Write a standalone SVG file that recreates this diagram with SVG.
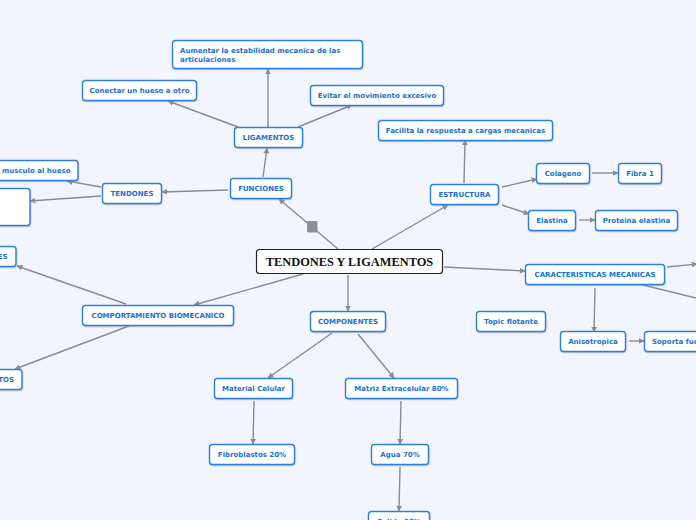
<svg xmlns="http://www.w3.org/2000/svg" width="696" height="520" viewBox="0 0 696 520">
<defs>
<style>
.n rect{fill:#fff;stroke:#2a7fe0;stroke-width:1.4;filter:url(#sh)}
.n text{font-family:"DejaVu Sans",Verdana,sans-serif;font-weight:bold;font-size:7px;fill:#1a6fd4;text-anchor:middle}
.c line{stroke:#8a8a92;stroke-width:1.4;marker-end:url(#ar)}
.c line.na{marker-end:none}
</style>
<marker id="ar" viewBox="0 0 10 10" refX="9" refY="5" markerWidth="6" markerHeight="6" orient="auto" markerUnits="userSpaceOnUse">
<path d="M0,0 L10,5 L0,10 z" fill="#8a8a92"/>
</marker>
<filter id="sh" x="-10%" y="-20%" width="120%" height="150%">
<feDropShadow dx="0.5" dy="1" stdDeviation="0.6" flood-color="#7a8aa0" flood-opacity="0.45"/>
</filter>
</defs>
<rect width="696" height="520" fill="#f2f5fd"/>
<g id="connectors" class="c">
<line x1="338" y1="249" x2="279" y2="199"/>
<line x1="372" y1="249" x2="448" y2="205"/>
<line x1="444" y1="267" x2="525" y2="271"/>
<line x1="348" y1="275" x2="348" y2="311"/>
<line x1="303" y1="274" x2="194" y2="305"/>
<line x1="263" y1="177" x2="267" y2="148"/>
<line x1="228" y1="190" x2="162" y2="192"/>
<line x1="238" y1="127" x2="168" y2="101"/>
<line x1="268" y1="127" x2="268" y2="69"/>
<line x1="298" y1="127" x2="352" y2="105"/>
<line x1="101" y1="187" x2="67" y2="181"/>
<line x1="101" y1="196" x2="30" y2="201"/>
<line x1="464" y1="183" x2="465" y2="140"/>
<line x1="502" y1="187" x2="537" y2="179"/>
<line x1="502" y1="205" x2="529" y2="214"/>
<line x1="592" y1="173" x2="618" y2="173"/>
<line x1="579" y1="220" x2="595" y2="220"/>
<line x1="595" y1="288" x2="594" y2="332"/>
<line x1="629" y1="341" x2="644" y2="341"/>
<line x1="667" y1="267" x2="697" y2="264"/>
<line class="na" x1="643" y1="285" x2="700" y2="299"/>
<line x1="126" y1="304" x2="17" y2="266"/>
<line x1="129" y1="326" x2="15" y2="369"/>
<line x1="332" y1="333" x2="268" y2="378"/>
<line x1="358" y1="334" x2="394" y2="378"/>
<line x1="254" y1="401" x2="253" y2="444"/>
<line x1="401" y1="401" x2="400" y2="444"/>
<line x1="400" y1="467" x2="399" y2="511"/>
</g>
<rect x="307" y="221" width="10.5" height="11.5" rx="1.5" fill="#8f8f95"/>
<g id="central">
<rect x="256.5" y="249.5" width="186" height="24" rx="3" fill="#fff" stroke="#222" stroke-width="1.2"/>
<text x="349.5" y="265.8" font-family="'Liberation Serif','Times New Roman',serif" font-weight="bold" font-size="12.4" text-anchor="middle" fill="#111">TENDONES Y LIGAMENTOS</text>
</g>
<g id="aumentar" class="n"><rect x="172.5" y="40.5" width="190" height="28" rx="3"/>
<text x="180" y="52.8" style="text-anchor:start">Aumentar la estabilidad mecanica de las</text>
<text x="180" y="62" style="text-anchor:start">articulaciones</text></g>
<g id="conectar" class="n"><rect x="82.5" y="80.5" width="114" height="20" rx="3"/><text x="139.5" y="93">Conectar un hueso a otro</text></g>
<g id="evitar" class="n"><rect x="310.5" y="85.5" width="133" height="20" rx="3"/><text x="377" y="98">Evitar el movimiento excesivo</text></g>
<g id="ligamentos" class="n"><rect x="234.5" y="127.5" width="68" height="20" rx="3"/><text x="268.5" y="140">LIGAMENTOS</text></g>
<g id="funciones" class="n"><rect x="230.5" y="178.5" width="61" height="20" rx="3"/><text x="261" y="191">FUNCIONES</text></g>
<g id="tendones" class="n"><rect x="102.5" y="183.5" width="59" height="20" rx="3"/><text x="132" y="196">TENDONES</text></g>
<g id="musculo" class="n"><rect x="-40" y="160.5" width="118" height="20" rx="3"/><text x="2" y="173" style="text-anchor:start">musculo al hueso</text></g>
<g id="vacio" class="n"><rect x="-40" y="188.5" width="70" height="37" rx="3"/></g>
<g id="facilita" class="n"><rect x="378.5" y="120.5" width="174" height="20" rx="3"/><text x="465.5" y="133">Facilita la respuesta a cargas mecanicas</text></g>
<g id="estructura" class="n"><rect x="430.5" y="184.5" width="68" height="20" rx="3"/><text x="464.5" y="197">ESTRUCTURA</text></g>
<g id="colageno" class="n"><rect x="536.5" y="163.5" width="53" height="20" rx="3"/><text x="563" y="176">Colageno</text></g>
<g id="fibra1" class="n"><rect x="618.5" y="163.5" width="43" height="20" rx="3"/><text x="640" y="176">Fibra 1</text></g>
<g id="elastina" class="n"><rect x="528.5" y="210.5" width="47" height="20" rx="3"/><text x="552" y="223">Elastina</text></g>
<g id="proteina" class="n"><rect x="595.5" y="210.5" width="82" height="20" rx="3"/><text x="636.5" y="223">Proteina elastina</text></g>
<g id="caracteristicas" class="n"><rect x="525.5" y="264.5" width="139" height="20" rx="3"/><text x="595" y="277">CARACTERISTICAS MECANICAS</text></g>
<g id="topic" class="n"><rect x="476.5" y="311.5" width="69" height="20" rx="3"/><text x="511" y="324">Topic flotante</text></g>
<g id="anisotropica" class="n"><rect x="560.5" y="331.5" width="65" height="20" rx="3"/><text x="593" y="344">Anisotropica</text></g>
<g id="soporta" class="n"><rect x="644.5" y="331.5" width="100" height="20" rx="3"/><text x="652" y="344" style="text-anchor:start">Soporta fue</text></g>
<g id="comportamiento" class="n"><rect x="82.5" y="305.5" width="151" height="20" rx="3"/><text x="158" y="318">COMPORTAMIENTO BIOMECANICO</text></g>
<g id="componentes" class="n"><rect x="310.5" y="311.5" width="75" height="20" rx="3"/><text x="348" y="324">COMPONENTES</text></g>
<g id="es" class="n"><rect x="-40" y="246.5" width="56" height="20" rx="3"/><text x="7.5" y="259" style="text-anchor:end">ES</text></g>
<g id="tos" class="n"><rect x="-40" y="369.5" width="62" height="20" rx="3"/><text x="14" y="382" style="text-anchor:end">TOS</text></g>
<g id="material" class="n"><rect x="214.5" y="378.5" width="78" height="20" rx="3"/><text x="253.5" y="391">Material Celular</text></g>
<g id="matriz" class="n"><rect x="345.5" y="378.5" width="112" height="20" rx="3"/><text x="401.5" y="391">Matriz Extracelular 80%</text></g>
<g id="fibroblastos" class="n"><rect x="209.5" y="444.5" width="85" height="20" rx="3"/><text x="252" y="457">Fibroblastos 20%</text></g>
<g id="agua" class="n"><rect x="371.5" y="444.5" width="57" height="20" rx="3"/><text x="400" y="457">Agua 70%</text></g>
<g id="solido" class="n"><rect x="368.5" y="511.5" width="61" height="20" rx="3"/><text x="399" y="524">Solido 30%</text></g>
</svg>
